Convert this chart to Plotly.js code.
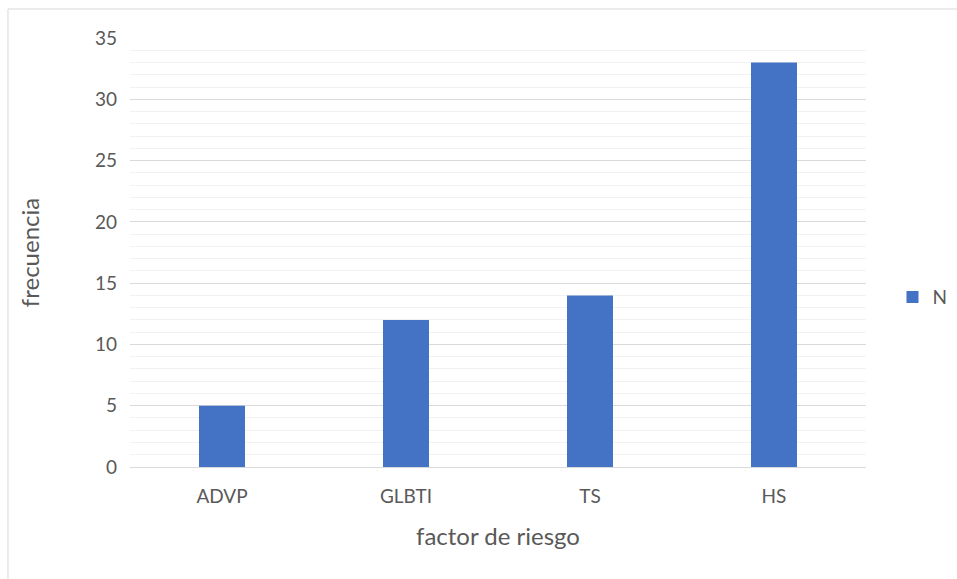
<!DOCTYPE html>
<html>
<head>
<meta charset="utf-8">
<script src="https://cdn.plot.ly/plotly-3.0.1.min.js"></script>
<style>
html,body{margin:0;padding:0;background:#fff;}
#chart{width:957px;height:579px;}
</style>
</head>
<body>
<div id="chart"></div>
<script>
const categories = ["ADVP", "GLBTI", "TS", "HS"];
const values = [5, 12, 14, 33];
const seriesName = "N";
const yTicks = [0, 5, 10, 15, 20, 25, 30, 35];

const font = "Lato, 'Open Sans', sans-serif";
const data = [{
  type: "bar",
  x: categories,
  y: values,
  name: seriesName,
  marker: {color: "#4472c4"},
  hoverinfo: "x+y"
}];

const layout = {
  width: 957,
  height: 579,
  margin: {l: 130, r: 91, t: 38, b: 112, autoexpand: false},
  paper_bgcolor: "#ffffff",
  plot_bgcolor: "#ffffff",
  bargap: 0.75,
  showlegend: true,
  font: {family: font, color: "#595959", size: 19},
  xaxis: {
    type: "category",
    showgrid: false,
    showline: false,
    zeroline: false,
    ticks: "",
    automargin: false,
    ticklabelstandoff: 16,
    tickfont: {size: 19, color: "#595959", family: font},
    title: {text: "factor de riesgo", font: {size: 24, color: "#595959", family: font}, standoff: 22}
  },
  yaxis: {
    range: [0, 35],
    tickvals: yTicks,
    ticktext: yTicks.map(String),
    automargin: false,
    showgrid: true,
    gridcolor: "#d9d9d9",
    gridwidth: 1,
    zeroline: true,
    zerolinecolor: "#d9d9d9",
    zerolinewidth: 1,
    showline: false,
    ticks: "",
    ticklabelstandoff: 12,
    minor: {dtick: 1, showgrid: true, gridcolor: "#f2f2f2", gridwidth: 1},
    tickfont: {size: 19, color: "#595959", family: font},
    title: {text: "frecuencia", font: {size: 24, color: "#595959", family: font}, standoff: 48}
  },
  legend: {
    x: 1.036, y: 0.396, xanchor: "left", yanchor: "middle",
    font: {size: 19, color: "#595959", family: font},
    itemwidth: 30,
    bgcolor: "rgba(0,0,0,0)"
  },
  shapes: [{
    type: "rect", xref: "paper", yref: "paper",
    x0: -0.1658, x1: 1.2, y0: -0.3, y1: 1.0676,
    line: {color: "#d9d9d9", width: 1},
    fillcolor: "rgba(0,0,0,0)",
    layer: "below"
  }]
};

Plotly.newPlot("chart", data, layout, {displayModeBar: false, staticPlot: true});
</script>
</body>
</html>
